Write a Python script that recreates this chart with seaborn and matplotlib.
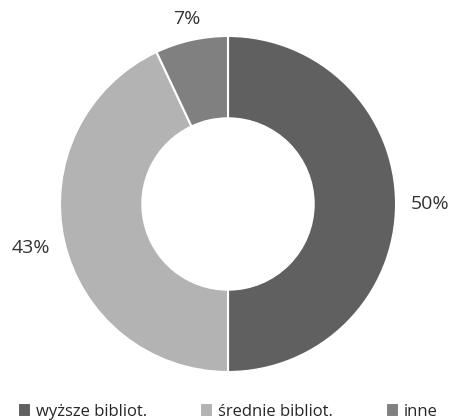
import matplotlib
matplotlib.use("Agg")
import matplotlib.pyplot as plt
import seaborn as sns

categories = ["wyższe bibliot.", "średnie bibliot.", "inne"]
shares = [50, 43, 7]
colors = ["#606060", "#b3b3b3", "#808080"]

sns.set_theme(style="white")
plt.rcParams["font.family"] = ["Open Sans", "DejaVu Sans"]

fig = plt.figure(figsize=(4.56, 4.2), dpi=100)
ax = fig.add_axes([0.021, 0.0543, 0.958, 0.92])

wedges, texts, autotexts = ax.pie(
    shares,
    colors=colors,
    startangle=90,
    counterclock=False,
    radius=1.0,
    autopct="%d%%",
    pctdistance=1.2,
    wedgeprops=dict(width=0.49, edgecolor="white", linewidth=1.5),
    textprops=dict(fontsize=14, color="#333333"),
)
# small slice label sits a little closer to the ring
x, y = autotexts[2].get_position()
autotexts[2].set_position((x * 0.94, y * 0.94))

ax.set_xlim(-1.3, 1.3)
ax.set_ylim(-1.15, 1.15)
ax.set_aspect("auto")
ax.axis("off")

fig.legend(
    wedges, categories,
    loc="lower center", bbox_to_anchor=(0.5, -0.035),
    ncol=3, frameon=False, fontsize=12,
    handlelength=0.75, handleheight=0.9, handletextpad=0.3,
    columnspacing=3.2,
)

fig.savefig("out.png", dpi=100)
